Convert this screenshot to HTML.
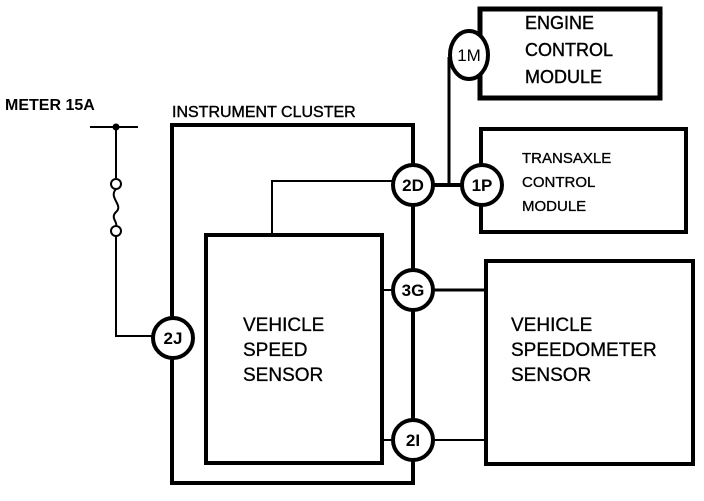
<!DOCTYPE html>
<html><head><style>html,body{margin:0;padding:0;background:#fff}</style></head><body>
<svg width="704" height="496" viewBox="0 0 704 496" xmlns="http://www.w3.org/2000/svg" font-family="Liberation Sans, sans-serif" fill="none" stroke="#000">
<!-- boxes -->
<rect x="480" y="9" width="180" height="89" stroke-width="5"/>
<rect x="481" y="129" width="205" height="103" stroke-width="4"/>
<rect x="206" y="235" width="176" height="228" stroke-width="4"/>
<rect x="486" y="261" width="207" height="203" stroke-width="4"/>
<!-- cluster loop -->
<polyline points="413,165 413,125 172,125 172,318" stroke-width="4"/>
<polyline points="172,358 172,483 413,483 413,460" stroke-width="4"/>
<line x1="413" y1="205" x2="413" y2="270" stroke-width="4"/>
<line x1="413" y1="310" x2="413" y2="420" stroke-width="4"/>
<!-- ECM / TCM connection -->
<polyline points="449,57 449,185" stroke-width="3"/>
<line x1="433" y1="185" x2="462" y2="185" stroke-width="4"/>
<!-- thin lines -->
<polyline points="272,235 272,181 393,181" stroke-width="2"/>
<line x1="382" y1="290" x2="393" y2="290" stroke-width="2"/>
<line x1="433" y1="290" x2="486" y2="290" stroke-width="3"/>
<line x1="382" y1="440" x2="393" y2="440" stroke-width="2"/>
<line x1="433" y1="440" x2="486" y2="440" stroke-width="2"/>
<!-- meter feed -->
<line x1="90" y1="127" x2="138" y2="127" stroke-width="2"/>
<circle cx="116" cy="127" r="3" fill="#000"/>
<line x1="116" y1="127" x2="116" y2="178" stroke-width="2"/>
<circle cx="116" cy="184" r="5" stroke-width="2"/>
<path d="M116,189 C108,198 124,205 116,212 C110,218 118,222 116,226" stroke-width="2"/>
<circle cx="116" cy="231" r="5" stroke-width="2"/>
<polyline points="116,236 116,336 152,336" stroke-width="2"/>
<!-- circles -->
<g stroke-width="4" fill="#fff">
<ellipse cx="469" cy="55" rx="19" ry="24"/>
<circle cx="482" cy="185" r="20"/>
<circle cx="413" cy="185" r="20"/>
<circle cx="413" cy="290" r="20"/>
<circle cx="413" cy="440" r="20"/>
<circle cx="173" cy="338" r="20"/>
</g>
<g fill="#000" stroke="none" font-size="17" text-anchor="middle" font-weight="bold">
<text x="469" y="61" font-weight="normal">1M</text>
<text x="482" y="191">1P</text>
<text x="413" y="191">2D</text>
<text x="413" y="296">3G</text>
<text x="413" y="446">2I</text>
<text x="173" y="344">2J</text>
</g>
<g fill="#000" stroke="#000" stroke-width="0.4" font-size="18">
<text x="525" y="29">ENGINE</text>
<text x="525" y="56">CONTROL</text>
<text x="525" y="83">MODULE</text>
</g>
<g fill="#000" stroke="#000" stroke-width="0.3" font-size="15">
<text x="522" y="163">TRANSAXLE</text>
<text x="522" y="187">CONTROL</text>
<text x="522" y="211">MODULE</text>
</g>
<g fill="#000" stroke="#000" stroke-width="0.3" font-size="19">
<text x="243" y="331">VEHICLE</text>
<text x="243" y="356">SPEED</text>
<text x="243" y="381">SENSOR</text>
<text x="511" y="331">VEHICLE</text>
<text x="511" y="356">SPEEDOMETER</text>
<text x="511" y="381">SENSOR</text>
</g>
<g fill="#000" stroke="#000" stroke-width="0.4" font-size="16">
<text x="172" y="117">INSTRUMENT CLUSTER</text>
<text x="5" y="110" font-weight="bold" stroke="none">METER 15A</text>
</g>
</svg>
</body></html>
